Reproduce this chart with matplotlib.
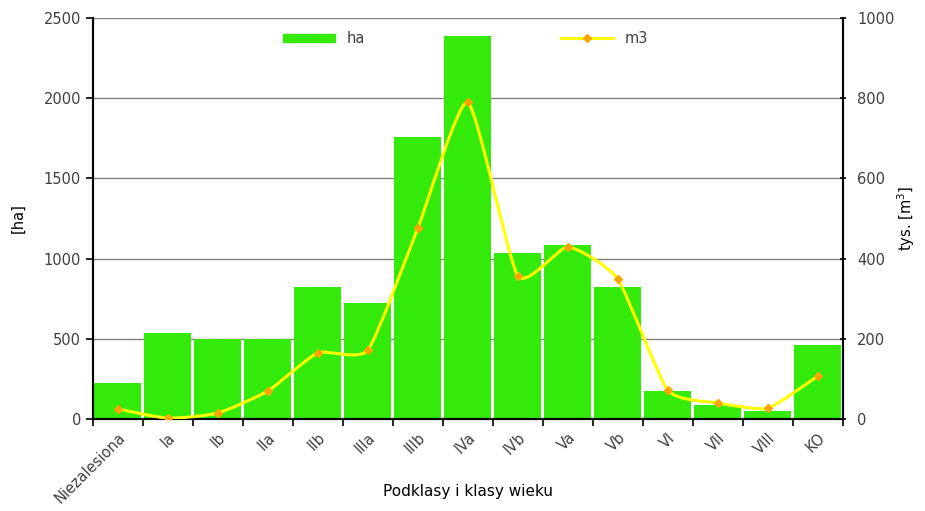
import numpy as np
import matplotlib
matplotlib.use("Agg")
import matplotlib.pyplot as plt
from matplotlib.path import Path
from matplotlib.patches import PathPatch
from matplotlib.lines import Line2D

categories = ["Niezalesiona", "Ia", "Ib", "IIa", "IIb", "IIIa", "IIIb", "IVa",
              "IVb", "Va", "Vb", "VI", "VII", "VIII", "KO"]
ha = [222, 535, 498, 497, 822, 722, 1755, 2390, 1033, 1083, 820, 175, 88, 50, 460]
m3 = [25, 2, 15, 70, 165, 172, 476, 790, 357, 429, 349, 72, 40, 27, 107]

GREEN = "#33EA0A"
YELLOW = "#FFFF00"
ORANGE = "#FFA500"
TEXT = "#404040"
FS = 10.5


def smooth_path(x, y, t=0.09):
    # smoothed line like in Excel: cubic Bezier through the points
    x = np.asarray(x, float)
    y = np.asarray(y, float)
    n = len(x)
    verts = [(x[0], y[0])]
    codes = [Path.MOVETO]
    for i in range(n - 1):
        p0 = i - 1 if i > 0 else i
        p3 = i + 2 if i + 2 < n else i + 1
        c1 = (x[i] + (x[i + 1] - x[p0]) * t, y[i] + (y[i + 1] - y[p0]) * t)
        c2 = (x[i + 1] - (x[p3] - x[i]) * t, y[i + 1] - (y[p3] - y[i]) * t)
        verts += [c1, c2, (x[i + 1], y[i + 1])]
        codes += [Path.CURVE4] * 3
    return Path(verts, codes)


fig = plt.figure(figsize=(9.25, 5.11), dpi=100)
ax = fig.add_axes([0.1005, 0.180, 0.8105, 0.785])
ax2 = ax.twinx()

x = np.arange(len(categories))
ax.bar(x, ha, width=0.94, color=GREEN, zorder=2)
ax.set_xlim(-0.5, len(categories) - 0.5)
ax.set_ylim(0, 2500)
ax.set_yticks(np.arange(0, 2501, 500))
ax.grid(axis="y", color="#808080", linewidth=1.0, zorder=0)
ax.set_axisbelow(True)

ax2.set_ylim(0, 1000)
ax2.set_yticks(np.arange(0, 1001, 200))
ax2.add_patch(PathPatch(smooth_path(x, m3), facecolor="none", edgecolor=YELLOW,
                        linewidth=2.2, zorder=3))
ax2.plot(x, m3, linestyle="none", marker="D", markersize=4.5, color=ORANGE, zorder=4)

ax.set_xticks(x)
ax.set_xticks(np.arange(-0.5, len(categories), 1), minor=True)
ax.set_xticklabels(categories, rotation=45, ha="right", rotation_mode="anchor",
                   fontsize=FS, color=TEXT)
ax.tick_params(axis="x", which="major", length=0, pad=8)
ax.tick_params(axis="x", which="minor", length=5, width=1.2, color="black")
ax.tick_params(axis="y", labelsize=FS, labelcolor=TEXT, length=5, width=1.2)
ax2.tick_params(axis="y", labelsize=FS, labelcolor=TEXT, length=5, width=1.2,
                direction="inout", pad=8)

for a in (ax, ax2):
    a.spines["top"].set_visible(False)
    for s in ("left", "right", "bottom"):
        a.spines[s].set_linewidth(1.5)

ax.set_ylabel("[ha]", fontsize=FS, color="black")
ax.yaxis.set_label_coords(-0.09, 0.5)
ax2.set_ylabel("tys. [m$^3$]", fontsize=FS, color="black")
ax2.yaxis.set_label_coords(1.07, 0.5)
ax.set_xlabel("Podklasy i klasy wieku", fontsize=FS + 0.5, color="black")
ax.xaxis.set_label_coords(0.5, -0.163)

handles = [plt.Rectangle((0, 0), 1, 0.5, color=GREEN),
           Line2D([], [], color=YELLOW, linewidth=2.2, marker="D",
                  markersize=4.5, markerfacecolor=ORANGE, markeredgecolor=ORANGE)]
leg = ax.legend(handles, ["ha", "m3"], loc="upper center", ncol=2, frameon=False,
                fontsize=FS, handlelength=3.6, handleheight=0.45,
                columnspacing=13.4, bbox_to_anchor=(0.497, 1.0))
for t in leg.get_texts():
    t.set_color(TEXT)

fig.savefig("out.png", dpi=100)
